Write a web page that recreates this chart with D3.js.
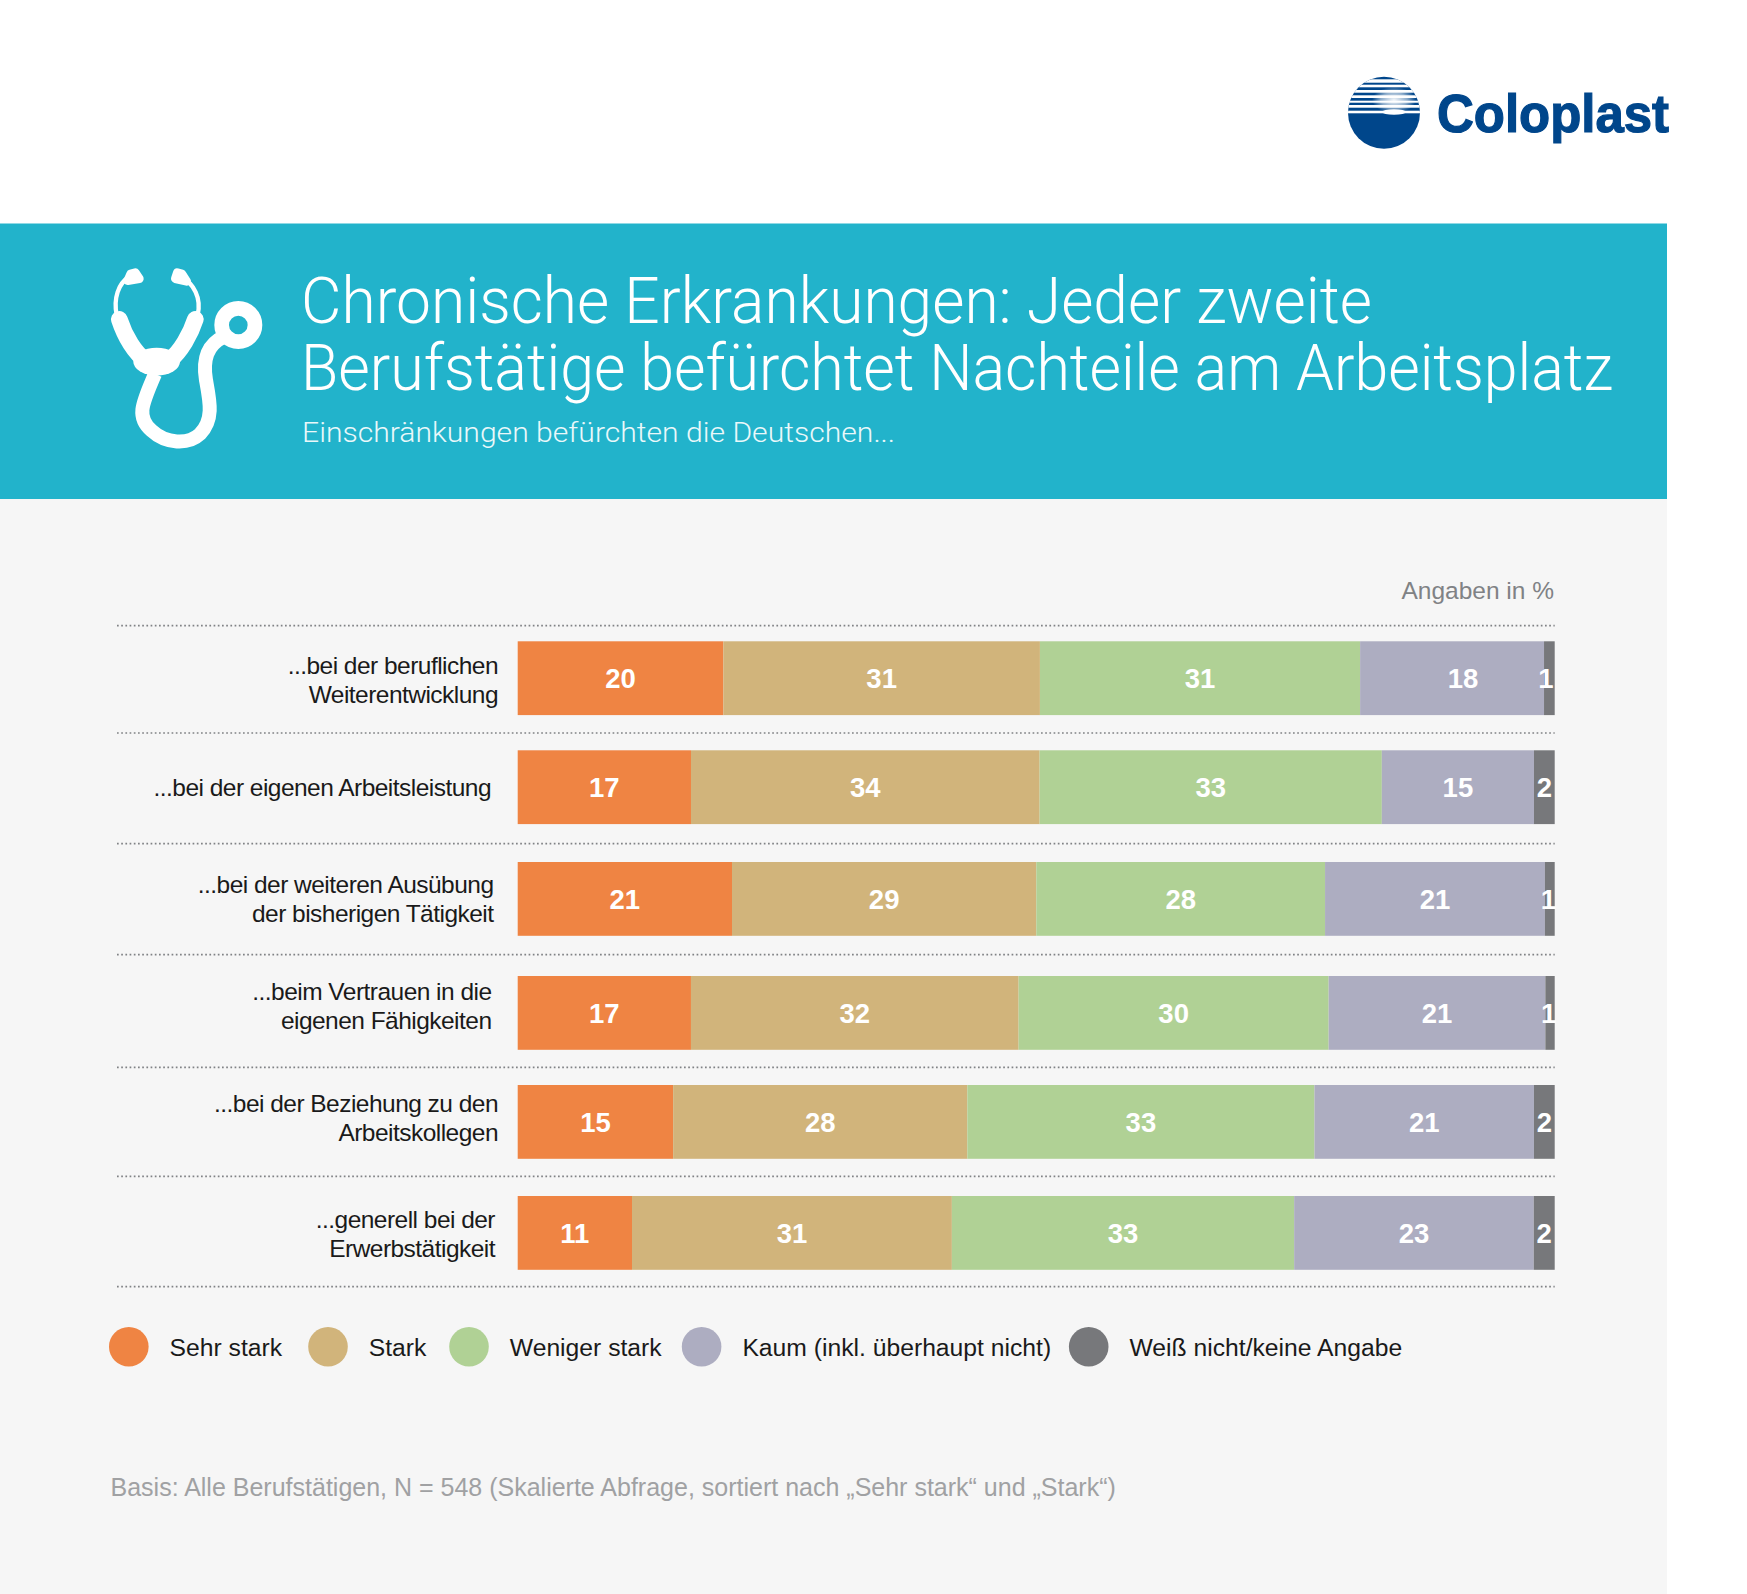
<!DOCTYPE html>
<html lang="de"><head><meta charset="utf-8"><title>Chronische Erkrankungen</title>
<script src="https://cdn.jsdelivr.net/npm/d3@7/dist/d3.min.js"></script>
<style>html,body{margin:0;padding:0;background:#fff}svg{display:block}text{font-family:"Liberation Sans",Arial,sans-serif}</style>
</head><body><div id="chart"></div>
<script>
// ---- data ----
const categories = [
  "...bei der beruflichen\nWeiterentwicklung",
  "...bei der eigenen Arbeitsleistung",
  "...bei der weiteren Ausübung\nder bisherigen Tätigkeit",
  "...beim Vertrauen in die\neigenen Fähigkeiten",
  "...bei der Beziehung zu den\nArbeitskollegen",
  "...generell bei der\nErwerbstätigkeit"
];
const seriesNames = ["Sehr stark","Stark","Weniger stark","Kaum (inkl. überhaupt nicht)","Weiß nicht/keine Angabe"];
const sehrStark   = [19.85, 16.71, 20.67, 16.71, 14.98, 11.02];
const stark       = [30.55, 33.62, 29.35, 31.6, 28.35, 30.84];
const wenigerStark= [30.9, 33.0, 27.85, 29.9, 33.45, 33.0];
const kaum        = [17.75, 14.67, 21.2, 20.9, 21.15, 23.1];
const weissNicht  = [1.03, 2.0, 0.95, 0.9, 2.0, 2.02];

const seriesValues = [sehrStark, stark, wenigerStark, kaum, weissNicht];
const colors = ["#ef8443","#d1b47b","#b0d195","#adadc1","#77787b"];

// ---- layout ----
const W = 1747, H = 1594;
const rowTops = [641.3, 750.3, 862, 976, 1085, 1196];
const barH = 73.8;
const ruleYs = [625.7, 733, 843.7, 954.7, 1067.3, 1176.3, 1286.7];
const labelRight = [498, 491, 493.5, 491.5, 498, 495];
const labelBase = [673.5, 795.5, 892.5, 1000, 1111.5, 1227.5];
const legendX = [128.8, 328, 469, 701.6, 1088.7];

const svg = d3.select("#chart").append("svg").attr("width", W).attr("height", H).attr("viewBox", [0,0,W,H]);
const defs = svg.append("defs");

// backgrounds
svg.append("rect").attr("width",W).attr("height",H).attr("fill","#fff");
svg.append("rect").attr("x",0).attr("y",499).attr("width",1667).attr("height",H-499).attr("fill","#f6f6f6");
svg.append("rect").attr("x",0).attr("y",223.5).attr("width",1667).attr("height",275.5).attr("fill","#22b3cb");

// logo
defs.append("clipPath").attr("id","logoClip").append("circle").attr("cx",1384).attr("cy",112.7).attr("r",36);
const glow = defs.append("radialGradient").attr("id","logoGlow");
glow.append("stop").attr("offset","0%").attr("stop-color","#fff").attr("stop-opacity",0.95);
glow.append("stop").attr("offset","60%").attr("stop-color","#fff").attr("stop-opacity",0.55);
glow.append("stop").attr("offset","100%").attr("stop-color","#fff").attr("stop-opacity",0);
const logo = svg.append("g");
const lg = logo.append("g").attr("clip-path","url(#logoClip)");
lg.append("rect").attr("x",1340).attr("y",70).attr("width",90).attr("height",90).attr("fill","#00468b");
[[79.3,3.4],[84.7,2.6],[90,2.7],[95.3,2.7],[100.7,2],[105,2.7],[110.7,2.6]].forEach(([y,h])=>{
  lg.append("rect").attr("x",1340).attr("y",y).attr("width",90).attr("height",h).attr("fill","#fff");
});
lg.append("ellipse").attr("cx",1394).attr("cy",100).attr("rx",22).attr("ry",13).attr("fill","url(#logoGlow)");
lg.append("ellipse").attr("cx",1394).attr("cy",112).attr("rx",12).attr("ry",2.8).attr("fill","#fff");
logo.append("text").attr("x",1437).attr("y",132).attr("font-size",53).attr("font-weight",700)
  .attr("fill","#00468b").attr("stroke","#00468b").attr("stroke-width",1.2)
  .attr("textLength",232).attr("lengthAdjust","spacingAndGlyphs").text("Coloplast");

// stethoscope icon
const ic = svg.append("g").attr("transform","translate(60,220) scale(0.3333)");
function p(d,sw,cap){ ic.append("path").attr("d",d).attr("fill","none").attr("stroke","#fff").attr("stroke-width",sw).attr("stroke-linecap",cap||"round"); }
p("M492,350 C440,375 428,420 438,480 C450,545 462,600 420,642 C385,675 318,672 275,632 C225,590 250,545 285,462",42,"butt");
p("M178,298 C195,350 225,400 258,422 Q290,440 328,422 C362,395 392,342 406,298",50);
p("M170,285 C160,235 175,190 208,170",13,"butt");
p("M413,285 C425,235 402,190 362,170",13,"butt");
ic.append("ellipse").attr("cx",290).attr("cy",425).attr("rx",70).attr("ry",42).attr("fill","#fff");
ic.append("path").attr("d","M203,182 L238,176 L226,158 L212,162 Z").attr("fill","#fff").attr("stroke","#fff").attr("stroke-width",26).attr("stroke-linejoin","round");
ic.append("path").attr("d","M346,176 L380,184 L366,162 L352,158 Z").attr("fill","#fff").attr("stroke","#fff").attr("stroke-width",26).attr("stroke-linejoin","round");
ic.append("circle").attr("cx",535).attr("cy",315).attr("r",50).attr("fill","none").attr("stroke","#fff").attr("stroke-width",44);

// titles
const tf = 'Roboto, "Liberation Sans", sans-serif';
const title = svg.append("text").attr("font-size",64).attr("font-weight",300).attr("fill","#fff").style("font-family",tf);
title.append("tspan").attr("x",301).attr("y",322.5).attr("textLength",1071).attr("lengthAdjust","spacingAndGlyphs").text("Chronische Erkrankungen: Jeder zweite");
title.append("tspan").attr("x",301).attr("y",390).attr("textLength",1312).attr("lengthAdjust","spacingAndGlyphs").text("Berufstätige befürchtet Nachteile am Arbeitsplatz");
svg.append("text").attr("x",302).attr("y",441.5).attr("font-size",28).attr("font-weight",300).attr("fill","#eaf8fa").style("font-family",tf)
  .attr("textLength",593).attr("lengthAdjust","spacingAndGlyphs").text("Einschränkungen befürchten die Deutschen...");

svg.append("text").attr("x",1554).attr("y",599).attr("text-anchor","end").attr("font-size",24.5).attr("fill","#808285").text("Angaben in %");

// scales
const x = d3.scaleLinear().domain([0,1]).range([517.7,1554.7]);
const yTop = d3.scaleOrdinal(categories, rowTops);
const color = d3.scaleOrdinal(seriesNames, colors);

const table = categories.map((c,i)=>{ const o={category:c}; seriesNames.forEach((s,j)=>o[s]=seriesValues[j][i]); return o; });
const stacked = d3.stack().keys(seriesNames).offset(d3.stackOffsetExpand)(table);

// dotted rules
svg.append("g").selectAll("line").data(ruleYs).join("line")
  .attr("x1",117).attr("x2",1554.7).attr("y1",d=>d).attr("y2",d=>d)
  .attr("stroke","#808285").attr("stroke-width",1.7).attr("stroke-dasharray","1.7 2.5");

// bars
const groups = svg.append("g").selectAll("g").data(stacked).join("g").attr("fill",d=>color(d.key));
groups.selectAll("rect").data(d=>d).join("rect")
  .attr("x",d=>x(d[0])).attr("width",d=>x(d[1])-x(d[0]))
  .attr("y",d=>yTop(d.data.category)).attr("height",barH);

// value labels
const valueShift = (s,i)=> (s===3 && i===0) ? 11 : (s===4 && i===0) ? -3.5 : (s===4 && (i===2||i===3)) ? -1.5 : 0;
const labels = svg.append("g");
stacked.forEach((ser,s)=>{
  ser.forEach((d,i)=>{
    labels.append("text").attr("x",(x(d[0])+x(d[1]))/2+valueShift(s,i)).attr("y",yTop(d.data.category)+47.1)
      .attr("text-anchor","middle").attr("font-size",27.5).attr("font-weight",700).attr("fill","#fff")
      .text(Math.round(seriesValues[s][i]));
  });
});

// category labels
categories.forEach((c,i)=>{
  c.split("\n").forEach((ln,k)=>{
    svg.append("text").attr("x",labelRight[i]).attr("y",labelBase[i]+k*29).attr("text-anchor","end")
      .attr("font-size",24.5).attr("letter-spacing",-0.53).attr("fill","#1a1a1a").text(ln);
  });
});

// legend
const legend = svg.append("g").selectAll("g").data(seriesNames).join("g").attr("transform",(d,i)=>`translate(${legendX[i]},1346.7)`);
legend.append("circle").attr("r",19.8).attr("fill",d=>color(d));
legend.append("text").attr("x",40.8).attr("y",9.3).attr("font-size",24.7).attr("fill","#1a1a1a").text(d=>d);

// footnote
svg.append("text").attr("x",110.5).attr("y",1496).attr("font-size",25).attr("fill","#a0a1a3")
  .text("Basis: Alle Berufstätigen, N = 548 (Skalierte Abfrage, sortiert nach „Sehr stark“ und „Stark“)");
</script></body></html>
